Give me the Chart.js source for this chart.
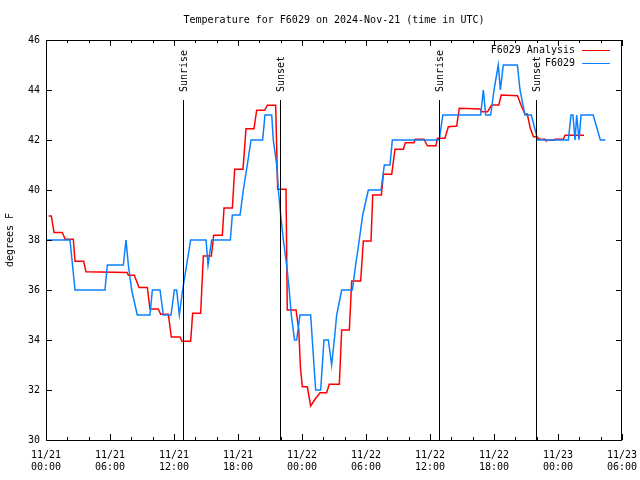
<!DOCTYPE html>
<html>
<head>
<meta charset="utf-8">
<script src="https://cdn.jsdelivr.net/npm/chart.js@4/dist/chart.umd.min.js"></script>
<style>
  html, body { margin: 0; padding: 0; background: #fff; }
  #wrap { width: 640px; height: 480px; }
</style>
</head>
<body>
<div id="wrap"><canvas id="temps" width="640" height="480"></canvas></div>
<script>
// hours since 11/21 00:00 UTC
var analysisHours = [0.25,0.5,0.75,1.53,1.8,2.56,2.72,3.53,3.75,7.6,7.72,8.28,8.72,9.5,9.75,10.53,10.75,11.47,11.75,12.56,12.75,13.56,13.75,14.5,14.75,15.5,15.72,16.53,16.69,17.47,17.69,18.47,18.75,19.5,19.75,20.5,20.75,21.53,21.72,22.5,22.62,23.44,23.7,23.85,24.03,24.5,24.81,25.22,25.69,26.31,26.56,27.5,27.72,28.44,28.66,29.5,29.75,30.47,30.63,31.44,31.63,32.41,32.72,33.5,33.69,34.5,34.62,35.44,35.75,36.56,36.69,37.4,37.72,38.5,38.75,40.69,40.85,41.4,41.78,42.45,42.68,44.2,44.53,44.9,45.12,45.4,45.7,46.0,46.3,46.8,46.85,47.6,47.7,48.5,48.66,50.44];
var analysisTemps = [38.96,38.96,38.3,38.3,38.03,38.03,37.15,37.15,36.73,36.7,36.59,36.59,36.1,36.1,35.24,35.24,35.03,35.03,34.12,34.12,33.95,33.95,35.07,35.07,37.36,37.36,38.19,38.19,39.28,39.28,40.83,40.83,42.45,42.45,43.19,43.19,43.39,43.39,40.03,40.03,35.2,35.2,34.4,32.93,32.13,32.13,31.36,31.63,31.89,31.89,32.23,32.23,34.4,34.4,36.36,36.36,37.96,37.96,39.8,39.8,40.63,40.63,41.63,41.63,41.89,41.89,42.03,42.03,41.77,41.77,42.07,42.07,42.53,42.56,43.27,43.24,43.13,43.13,43.4,43.4,43.8,43.77,43.4,43.04,43.04,42.47,42.13,42.13,42.03,42.03,41.99,41.99,42.03,42.03,42.19,42.19];

var obsHours = [0,2.25,2.72,5.53,5.75,7.25,7.5,7.72,8.03,8.56,9.75,9.97,10.69,11.0,11.72,12.03,12.25,12.5,12.81,13.56,15.0,15.19,15.53,17.28,17.47,18.19,18.5,18.87,19.22,20.31,20.53,21.16,21.31,21.63,21.78,22.0,22.25,22.56,22.8,23.0,23.3,23.5,23.81,24.81,25.28,25.75,26.06,26.47,26.78,27.03,27.25,27.72,28.72,29.03,29.37,29.69,30.22,31.41,31.72,32.25,32.47,36.87,37.2,40.75,41.0,41.22,41.69,42.0,42.4,42.6,42.87,44.19,44.44,44.9,45.5,46.1,48.97,49.22,49.4,49.6,49.75,49.97,50.16,51.3,51.97,52.44];
var obsTemps = [38,38,36,36,37,37,38,37,36,35,35,36,36,35,35,36,36,35,36,38,38,37,38,38,39,39,40,41,42,42,43,43,42,41,40,39,38,37,36,35,34,34,35,35,32,32,34,34,33,34,35,36,36,37,38,39,40,40,41,41,42,42,43,43,44,43,43,44,45,44,45,45,44,43,43,42,42,43,43,42,43,42,43,43,42,42];

var sunHours = [12.87, 21.97, 36.87, 45.91];
var sunLabels = ['Sunrise', 'Sunset', 'Sunrise', 'Sunset'];

var xTickLabels = [['11/21','00:00'],['11/21','06:00'],['11/21','12:00'],['11/21','18:00'],['11/22','00:00'],['11/22','06:00'],['11/22','12:00'],['11/22','18:00'],['11/23','00:00'],['11/23','06:00']];

var FONT = 'DejaVu Sans Mono';

function toPoints(xs, ys) {
  return xs.map(function (h, i) { return {x: h, y: ys[i]}; });
}

// frame, inward ticks, sunrise/sunset markers, title and legend
var gnuplotBits = {
  id: 'gnuplotBits',
  afterDatasetsDraw: function (chart) {
    var ctx = chart.ctx, a = chart.chartArea;
    var xs = chart.scales.x, ys = chart.scales.y;
    ctx.save();
    ctx.strokeStyle = '#000';
    ctx.lineWidth = 1;

    // sun lines
    ctx.font = '10px ' + FONT;
    ctx.fillStyle = '#000';
    var lineTop = a.top + 0.15 * (a.bottom - a.top);
    sunHours.forEach(function (h, i) {
      var px = Math.round(xs.getPixelForValue(h)) + 0.5;
      ctx.beginPath();
      ctx.moveTo(px, lineTop);
      ctx.lineTo(px, a.bottom);
      ctx.stroke();
      ctx.save();
      ctx.translate(px + 1, lineTop - 8);
      ctx.rotate(-Math.PI / 2);
      ctx.textAlign = 'left';
      ctx.textBaseline = 'middle';
      ctx.fillText(sunLabels[i], 0, 0);
      ctx.restore();
    });

    // border
    ctx.strokeRect(Math.round(a.left) + 0.5, Math.round(a.top) + 0.5,
      Math.round(a.right - a.left) - 1, Math.round(a.bottom - a.top));

    // x ticks (major every 6 h, minor every 2 h) top and bottom
    ctx.beginPath();
    for (var h = 0; h <= 54; h += 2) {
      var px = Math.round(xs.getPixelForValue(h)) + 0.5;
      var len = (h % 6 === 0) ? 6 : 3;
      ctx.moveTo(px, a.bottom); ctx.lineTo(px, a.bottom - len);
      ctx.moveTo(px, a.top); ctx.lineTo(px, a.top + len);
    }
    // y ticks left and right
    for (var v = 30; v <= 46; v += 2) {
      var py = Math.round(ys.getPixelForValue(v)) + 0.5;
      ctx.moveTo(a.left, py); ctx.lineTo(a.left + 6, py);
      ctx.moveTo(a.right, py); ctx.lineTo(a.right - 6, py);
    }
    ctx.stroke();

    // title
    ctx.textAlign = 'center';
    ctx.textBaseline = 'middle';
    ctx.fillText('Temperature for F6029 on 2024-Nov-21 (time in UTC)', (a.left + a.right) / 2, 20);

    // legend
    var rows = chart.data.datasets.slice().sort(function (p, q) { return p.legendRow - q.legendRow; });
    rows.forEach(function (ds, i) {
      var ly = 50 + i * 13;
      ctx.textAlign = 'right';
      ctx.fillStyle = '#000';
      ctx.fillText(ds.label, 575, ly);
      ctx.strokeStyle = ds.borderColor;
      ctx.beginPath();
      ctx.moveTo(582, ly + 0.5);
      ctx.lineTo(610, ly + 0.5);
      ctx.stroke();
    });
    ctx.restore();
  }
};

var ctx = document.getElementById('temps').getContext('2d');
var myChart = new Chart(ctx, {
  type: 'line',
  data: {
    datasets: [{
      label: 'F6029 Analysis',
      legendRow: 0,
      data: toPoints(analysisHours, analysisTemps),
      borderColor: '#ff0000',
      borderWidth: 1.5,
      pointRadius: 0,
      tension: 0,
      order: 2
    }, {
      label: 'F6029',
      legendRow: 1,
      data: toPoints(obsHours, obsTemps),
      borderColor: '#0a80ff',
      borderWidth: 1.5,
      pointRadius: 0,
      tension: 0,
      order: 1
    }]
  },
  options: {
    responsive: false,
    animation: false,
    layout: { padding: { top: 40, right: 18, left: 0, bottom: 0 } },
    plugins: {
      legend: { display: false },
      title: { display: false },
      tooltip: { enabled: false }
    },
    scales: {
      x: {
        type: 'linear',
        min: 0,
        max: 54,
        afterFit: function (s) { s.height = 40; s.paddingLeft = 0; s.paddingRight = 0; },
        grid: { display: false, drawTicks: false },
        border: { display: false },
        ticks: {
          stepSize: 6,
          autoSkip: false,
          maxRotation: 0,
          padding: 9,
          color: '#000',
          font: { family: FONT, size: 10 },
          callback: function (v) { return xTickLabels[Math.round(v / 6)]; }
        }
      },
      y: {
        min: 30,
        max: 46,
        afterFit: function (s) { s.width = 46; s.paddingTop = 0; s.paddingBottom = 0; },
        grid: { display: false, drawTicks: false },
        border: { display: false },
        title: {
          display: true,
          text: 'degrees F',
          color: '#000',
          font: { family: FONT, size: 10 },
          padding: { top: 4, bottom: 0 }
        },
        ticks: {
          stepSize: 2,
          padding: 6,
          color: '#000',
          font: { family: FONT, size: 10 }
        }
      }
    }
  },
  plugins: [gnuplotBits]
});
</script>
</body>
</html>
